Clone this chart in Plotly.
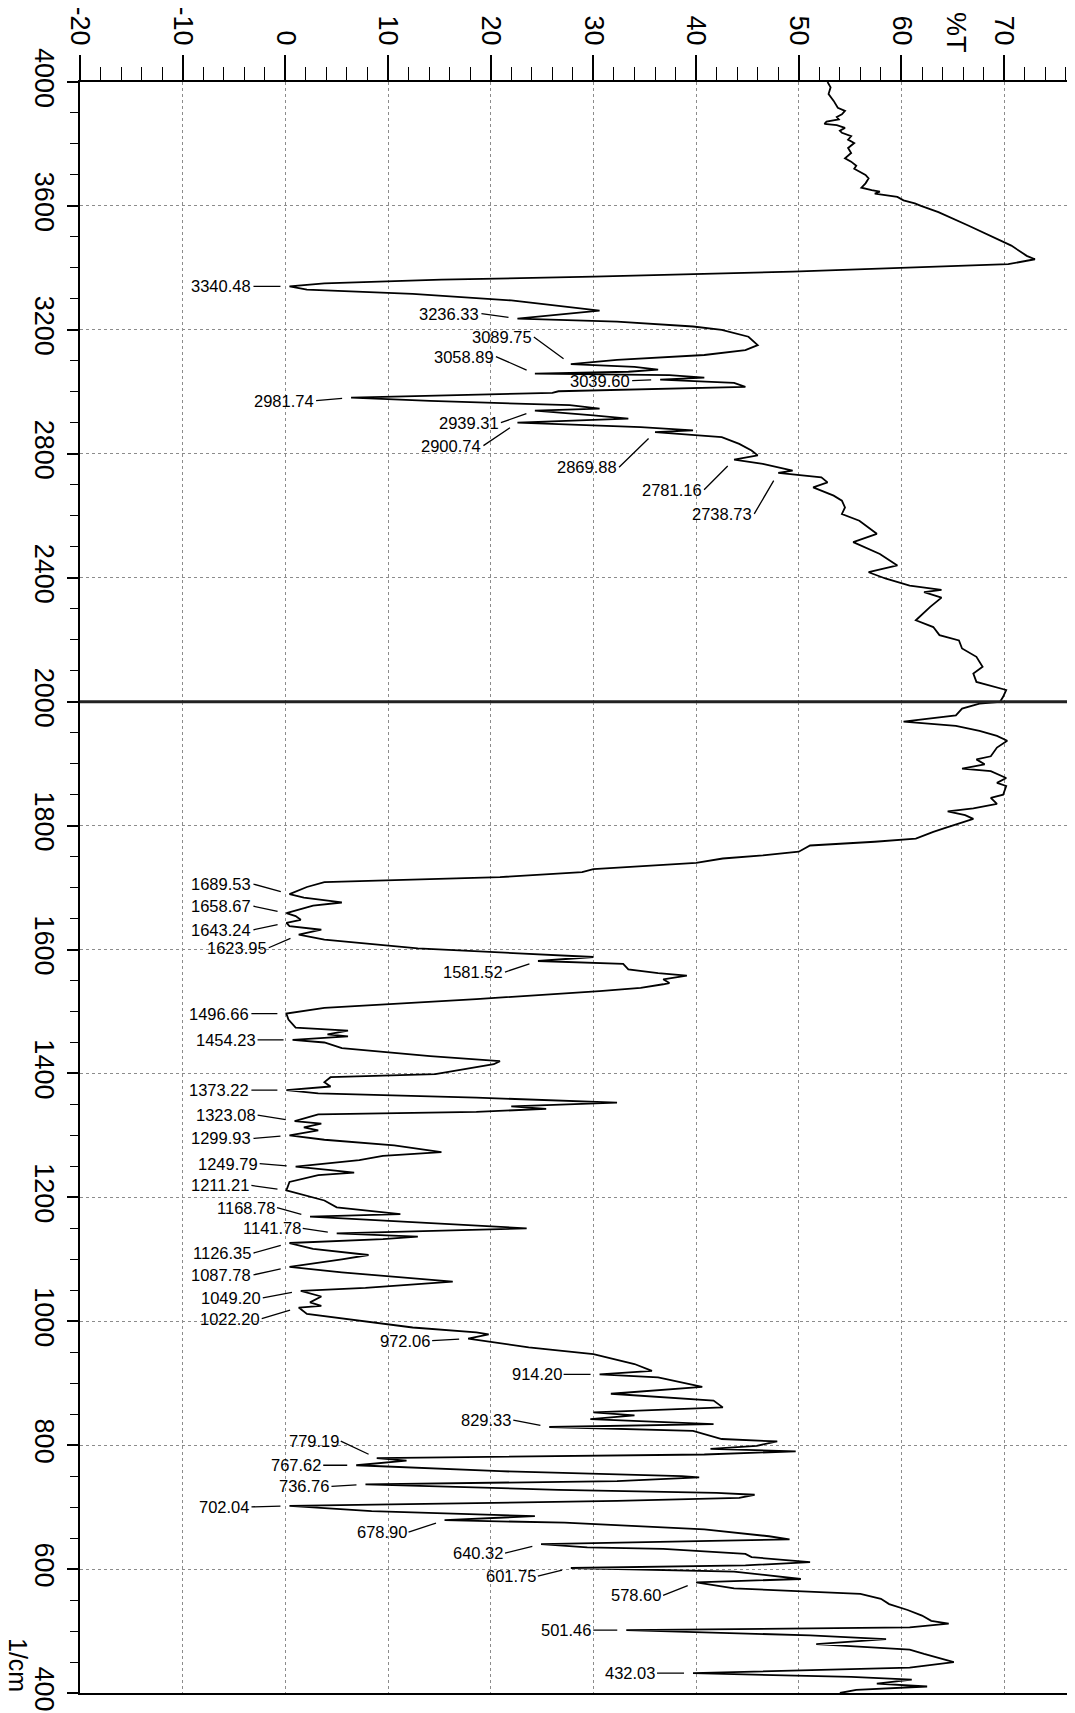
import plotly.graph_objects as go

# ---------------- data ----------------
wn_upper = [4000, 3983, 3961, 3939, 3917, 3907, 3896, 3887, 3879, 3872, 3865, 3861, 3852, 3843,
            3836, 3825, 3814, 3803, 3787, 3771, 3754, 3743, 3730, 3720, 3700, 3689, 3673, 3659,
            3651, 3646, 3640, 3629, 3618, 3608, 3600, 3580, 3537, 3504, 3472, 3439, 3428, 3412,
            3388, 3372, 3362, 3350, 3340.48, 3330, 3316, 3295, 3262, 3236.33, 3227, 3211, 3200,
            3178, 3151, 3135, 3119, 3103, 3089.75, 3081, 3072, 3065, 3058.89, 3054, 3046,
            3039.60, 3029, 3016, 3002, 2997, 2981.74, 2971, 2957, 2946, 2939.31, 2924, 2914,
            2900.74, 2886, 2876, 2869.88, 2854, 2832, 2811, 2795, 2781.16, 2768, 2746, 2738.73,
            2724, 2708, 2692, 2665, 2649, 2627, 2606, 2584, 2542, 2515, 2477, 2440, 2418, 2397,
            2375, 2361, 2354, 2336, 2306, 2263, 2241, 2215, 2198, 2172, 2145, 2113, 2091, 2064,
            2038, 2016, 2000]
t_upper = [52.8, 53.1, 52.9, 53.4, 53.8, 54.5, 54.2, 53.7, 53.9, 52.7, 52.5, 53.7, 54.5, 54.0,
           54.2, 55.1, 54.8, 55.4, 54.8, 55.1, 54.5, 55.1, 55.6, 55.4, 56.5, 56.8, 56.5, 56.1,
           57.1, 57.9, 57.4, 59.6, 60.2, 61.3, 61.9, 63.6, 66.5, 68.7, 70.7, 72.2, 73.0, 70.4,
           49.4, 30.0, 15.2, 3.8, 0.4, 2.1, 12.4, 22.0, 30.6, 22.6, 32.3, 39.7, 42.5,
           45.1, 46.0, 44.8, 40.8, 32.3, 27.8, 34.0, 36.3, 33.4, 24.3, 37.4, 40.8,
           36.5, 43.7, 44.8, 26.6, 26.0, 6.4, 14.1, 27.7, 30.6, 24.3, 30.0, 33.4,
           22.6, 34.6, 39.7, 36.0, 42.5, 44.2, 45.4, 46.0, 43.7, 46.5, 49.4, 48.0,
           52.2, 52.8, 51.4, 53.4, 54.2, 54.5, 54.2, 55.9, 57.6, 55.3, 57.9, 59.6, 56.8, 58.5,
           60.8, 63.9, 62.2, 63.9, 62.8, 61.4, 63.1, 63.7, 65.6, 65.9, 67.3, 67.9, 67.0, 67.3,
           70.2, 69.9, 69.6]

wn_lower = [2000, 1997, 1989, 1983, 1978, 1968, 1961, 1953, 1945, 1937, 1926, 1912, 1907, 1899,
            1892, 1888, 1877, 1869, 1864, 1850, 1845, 1835, 1828, 1823, 1817, 1811, 1804, 1796,
            1790, 1779, 1774, 1768, 1758, 1752, 1747, 1740, 1730, 1725, 1717, 1709, 1701,
            1689.53, 1684, 1676, 1671, 1658.67, 1654, 1648, 1643.24, 1638, 1632, 1623.95, 1616,
            1608, 1602, 1588, 1581.52, 1577, 1568, 1562, 1558, 1552, 1546, 1544, 1538, 1533,
            1520, 1506, 1496.66, 1487, 1474, 1469, 1463, 1460, 1454.23, 1450, 1441, 1428, 1420,
            1415, 1399, 1394, 1386, 1379, 1373.22, 1368, 1361, 1353, 1347, 1343, 1338, 1334,
            1323.08, 1319, 1313, 1308, 1299.93, 1293, 1284, 1273, 1267, 1260, 1249.79, 1244,
            1240, 1236, 1225, 1211.21, 1195, 1184, 1173, 1168.78, 1160, 1150, 1141.78, 1136.5,
            1132.7, 1126.35, 1117, 1107, 1100, 1087.78, 1079, 1064, 1054, 1049.20, 1040, 1030.5,
            1025, 1022.20, 1012, 990, 982, 979, 972.06, 958, 947, 931, 920, 914.20, 909.5, 901,
            894, 883, 872, 861, 853, 848, 842, 834, 829.33, 823, 810, 806, 799, 794, 790, 785,
            779.19, 775, 771, 767.62, 758, 750, 748, 742, 736.76, 728, 723, 720, 715, 710,
            702.04, 693.5, 685.5, 678.90, 675, 664, 653, 648, 640.32, 635, 632.6, 624.6, 619.3,
            616.6, 611.2, 606, 601.75, 596, 589, 584, 580.5, 578.60, 569, 565, 560, 552, 543.5,
            534, 525, 516.5, 512, 506, 501.46, 493, 487, 479, 470, 463, 454, 450, 441, 432.03,
            426, 421.5, 415, 410.5, 405, 400]
t_lower = [69.6, 67.6, 65.9, 65.6, 65.3, 60.2, 65.3, 67.6, 69.3, 70.3, 69.3, 68.7, 67.3, 68.1,
           65.9, 68.7, 70.2, 69.3, 70.2, 69.9, 68.7, 69.3, 67.0, 64.5, 66.2, 67.0, 65.6, 64.2,
           63.1, 61.4, 57.4, 51.1, 50.0, 46.5, 42.6, 40.0, 30.0, 28.9, 20.9, 3.8, 2.1,
           0.4, 1.8, 5.5, 2.7, 0.1, 1.0, 1.5, 0.1, 0.4, 3.5, 1.3, 3.8,
           9.5, 12.9, 30.0, 24.6, 32.9, 33.4, 36.3, 39.1, 36.8, 37.4, 36.8, 34.6, 30.6,
           18.6, 3.8, 0.1, 0.3, 1.0, 6.1, 4.1, 6.1, 0.7, 3.8, 5.5, 14.1, 20.9,
           20.3, 14.6, 4.4, 3.8, 4.4, 0.1, 3.2, 18.6, 32.3, 22.0, 25.4, 18.6, 3.2,
           0.9, 3.5, 1.8, 3.2, 0.4, 3.8, 10.6, 15.2, 9.5, 7.2, 1.0, 4.4,
           6.7, 3.2, 0.4, 0.1, 3.8, 5.0, 11.2, 2.4, 12.4, 23.5, 5.0, 12.9,
           9.5, 0.4, 2.7, 8.1, 5.5, 0.4, 5.5, 16.3, 7.8, 1.5, 3.5, 2.4,
           3.5, 1.3, 2.1, 12.4, 18.6, 19.8, 17.8, 23.7, 30.0, 34.0, 35.7, 30.6, 36.3, 38.6,
           40.6, 31.7, 41.7, 42.6, 30.0, 34.0, 29.7, 41.7, 25.7, 39.7, 42.5, 47.9, 45.9, 41.4, 49.7, 40.8,
           8.9, 11.8, 9.5, 6.9, 20.9, 38.6, 40.3, 32.3, 7.8, 26.6, 42.0, 45.7, 44.2, 32.3,
           0.4, 8.4, 24.3, 15.5, 27.2, 40.8, 47.1, 49.1, 24.9, 29.4, 36.8, 44.8, 45.4,
           47.1, 51.1, 44.8, 27.8, 43.7, 47.7, 50.2, 43.7, 40.0, 43.7, 50.0, 56.0, 58.0, 58.8,
           60.6, 62.0, 62.9, 64.6, 60.8, 33.2, 51.1, 58.5, 51.7, 60.8, 62.2, 64.2, 65.1, 60.8, 39.7,
           55.1, 61.0, 57.6, 62.5, 55.6, 54.0]

peaks_upper = [3340.48, 3236.33, 3089.75, 3058.89, 3039.60, 2981.74, 2939.31, 2900.74,
               2869.88, 2781.16, 2738.73]
peaks_lower = [1689.53, 1658.67, 1643.24, 1623.95, 1581.52, 1496.66, 1454.23, 1373.22,
               1323.08, 1299.93, 1249.79, 1211.21, 1168.78, 1141.78, 1126.35, 1087.78,
               1049.20, 1022.20, 972.06, 914.20, 829.33, 779.19, 767.62, 736.76, 702.04,
               678.90, 640.32, 601.75, 578.60, 501.46, 432.03]

x_ticks = [-20, -10, 0, 10, 20, 30, 40, 50, 60, 70]
y_ticks_upper = [4000, 3600, 3200, 2800, 2400]
y_ticks_lower = [2000, 1800, 1600, 1400, 1200, 1000, 800, 600, 400]

# label offsets (pixels, style only)
off_upper = [(-36, 0), (-36, -5), (-37, -27), (-39, -17), (-28, 1), (-35, 3), (-34, 12),
             (-34, 23), (-36, 35), (-30, 30), (-24, 41)]
off_lower = [(-36, -10), (-33, -7), (-33, 7), (-30, 13), (-33, 11), (-35, 0), (-35, 0),
             (-35, 0), (-37, -6), (-36, 3), (-36, -3), (-35, -5), (-33, -9), (-34, -5),
             (-36, 10), (-36, 8), (-38, 7), (-37, 11), (-36, 2), (-36, 0), (-36, -7),
             (-36, -17), (-33, 0), (-34, 2), (-38, 1), (-36, 12), (-36, 9), (-33, 8),
             (-33, 13), (-33, 0), (-36, 0)]

# ---------------- figure ----------------
FONT = "Liberation Sans, Arial, sans-serif"
SPLIT = 0.6153
GRID = dict(showgrid=True, gridcolor="#8c8c8c", griddash="dot", gridwidth=1)

fig = go.Figure()
fig.add_trace(go.Scatter(x=t_upper, y=wn_upper, xaxis="x", yaxis="y", mode="lines",
                         line=dict(color="black", width=1.8), showlegend=False))
fig.add_trace(go.Scatter(x=t_lower, y=wn_lower, xaxis="x2", yaxis="y2", mode="lines",
                         line=dict(color="black", width=1.8), showlegend=False))

annotations = []
for wn, (ax, ay) in zip(peaks_upper, off_upper):
    t = t_upper[wn_upper.index(wn)]
    annotations.append(dict(x=t, y=wn, xref="x", yref="y", text=f"{wn:.2f}",
                            showarrow=True, arrowhead=0, arrowwidth=1.3, arrowcolor="black",
                            ax=ax, ay=ay, standoff=9, xanchor="right", yanchor="middle",
                            font=dict(family=FONT, size=16.5, color="black")))
for wn, (ax, ay) in zip(peaks_lower, off_lower):
    t = t_lower[wn_lower.index(wn)]
    annotations.append(dict(x=t, y=wn, xref="x2", yref="y2", text=f"{wn:.2f}",
                            showarrow=True, arrowhead=0, arrowwidth=1.3, arrowcolor="black",
                            ax=ax, ay=ay, standoff=9, xanchor="right", yanchor="middle",
                            font=dict(family=FONT, size=16.5, color="black")))
annotations.append(dict(x=65.3, y=1, xref="x", yref="paper", yshift=49, text="%T",
                        showarrow=False, textangle=90, xanchor="center", yanchor="middle",
                        font=dict(family=FONT, size=27, color="black")))
annotations.append(dict(x=0, y=0, xref="paper", yref="paper", xshift=-62, yshift=28,
                        text="1/cm", showarrow=False, textangle=90, xanchor="center",
                        yanchor="middle", font=dict(family=FONT, size=25, color="black")))

tickfont = dict(family=FONT, size=27, color="black")
xrange = [-20, 76.9]

# the page body adds an 8px margin, so the figure is 8px smaller than the window
fig.update_layout(
    template="none",
    width=1067, height=1705,
    margin=dict(l=72, r=0, t=74, b=20),
    paper_bgcolor="white", plot_bgcolor="white",
    showlegend=False,
    xaxis=dict(domain=[0, 1], anchor="y", side="top", range=xrange,
               tickvals=x_ticks, ticktext=[str(v) for v in x_ticks], tickangle=90,
               ticks="outside", ticklen=25, tickwidth=1.5, tickcolor="black",
               minor=dict(dtick=2, tick0=0, ticks="outside", ticklen=13, tickwidth=1.3,
                          tickcolor="black", showgrid=False),
               showline=True, linecolor="black", linewidth=2, zeroline=False,
               tickfont=tickfont, automargin=False, **GRID),
    yaxis=dict(domain=[SPLIT, 1], anchor="x", range=[2000, 4000],
               tickvals=y_ticks_upper, ticktext=[str(v) for v in y_ticks_upper], tickangle=90,
               ticks="outside", ticklen=11, tickwidth=1.5, tickcolor="black",
               minor=dict(dtick=100, tick0=0, ticks="outside", ticklen=8, tickwidth=1.3,
                          tickcolor="black", showgrid=False),
               showline=True, linecolor="black", linewidth=2, zeroline=False,
               tickfont=tickfont, automargin=False, **GRID),
    xaxis2=dict(domain=[0, 1], anchor="y2", side="bottom", range=xrange, matches="x",
                tickvals=x_ticks, showticklabels=False, ticks="",
                showline=True, linecolor="black", linewidth=2, zeroline=False,
                automargin=False, **GRID),
    yaxis2=dict(domain=[0, SPLIT], anchor="x2", range=[400, 2000],
                tickvals=y_ticks_lower, ticktext=[str(v) for v in y_ticks_lower], tickangle=90,
                ticks="outside", ticklen=11, tickwidth=1.5, tickcolor="black",
                minor=dict(dtick=50, tick0=0, ticks="outside", ticklen=8, tickwidth=1.3,
                           tickcolor="black", showgrid=False),
                showline=True, linecolor="black", linewidth=2, zeroline=False,
                tickfont=tickfont, automargin=False, **GRID),
    annotations=annotations,
    shapes=[dict(type="line", xref="paper", yref="paper", x0=0, x1=1, y0=SPLIT, y1=SPLIT,
                 line=dict(color="#222222", width=3))],
)

fig.write_html("out.html")
